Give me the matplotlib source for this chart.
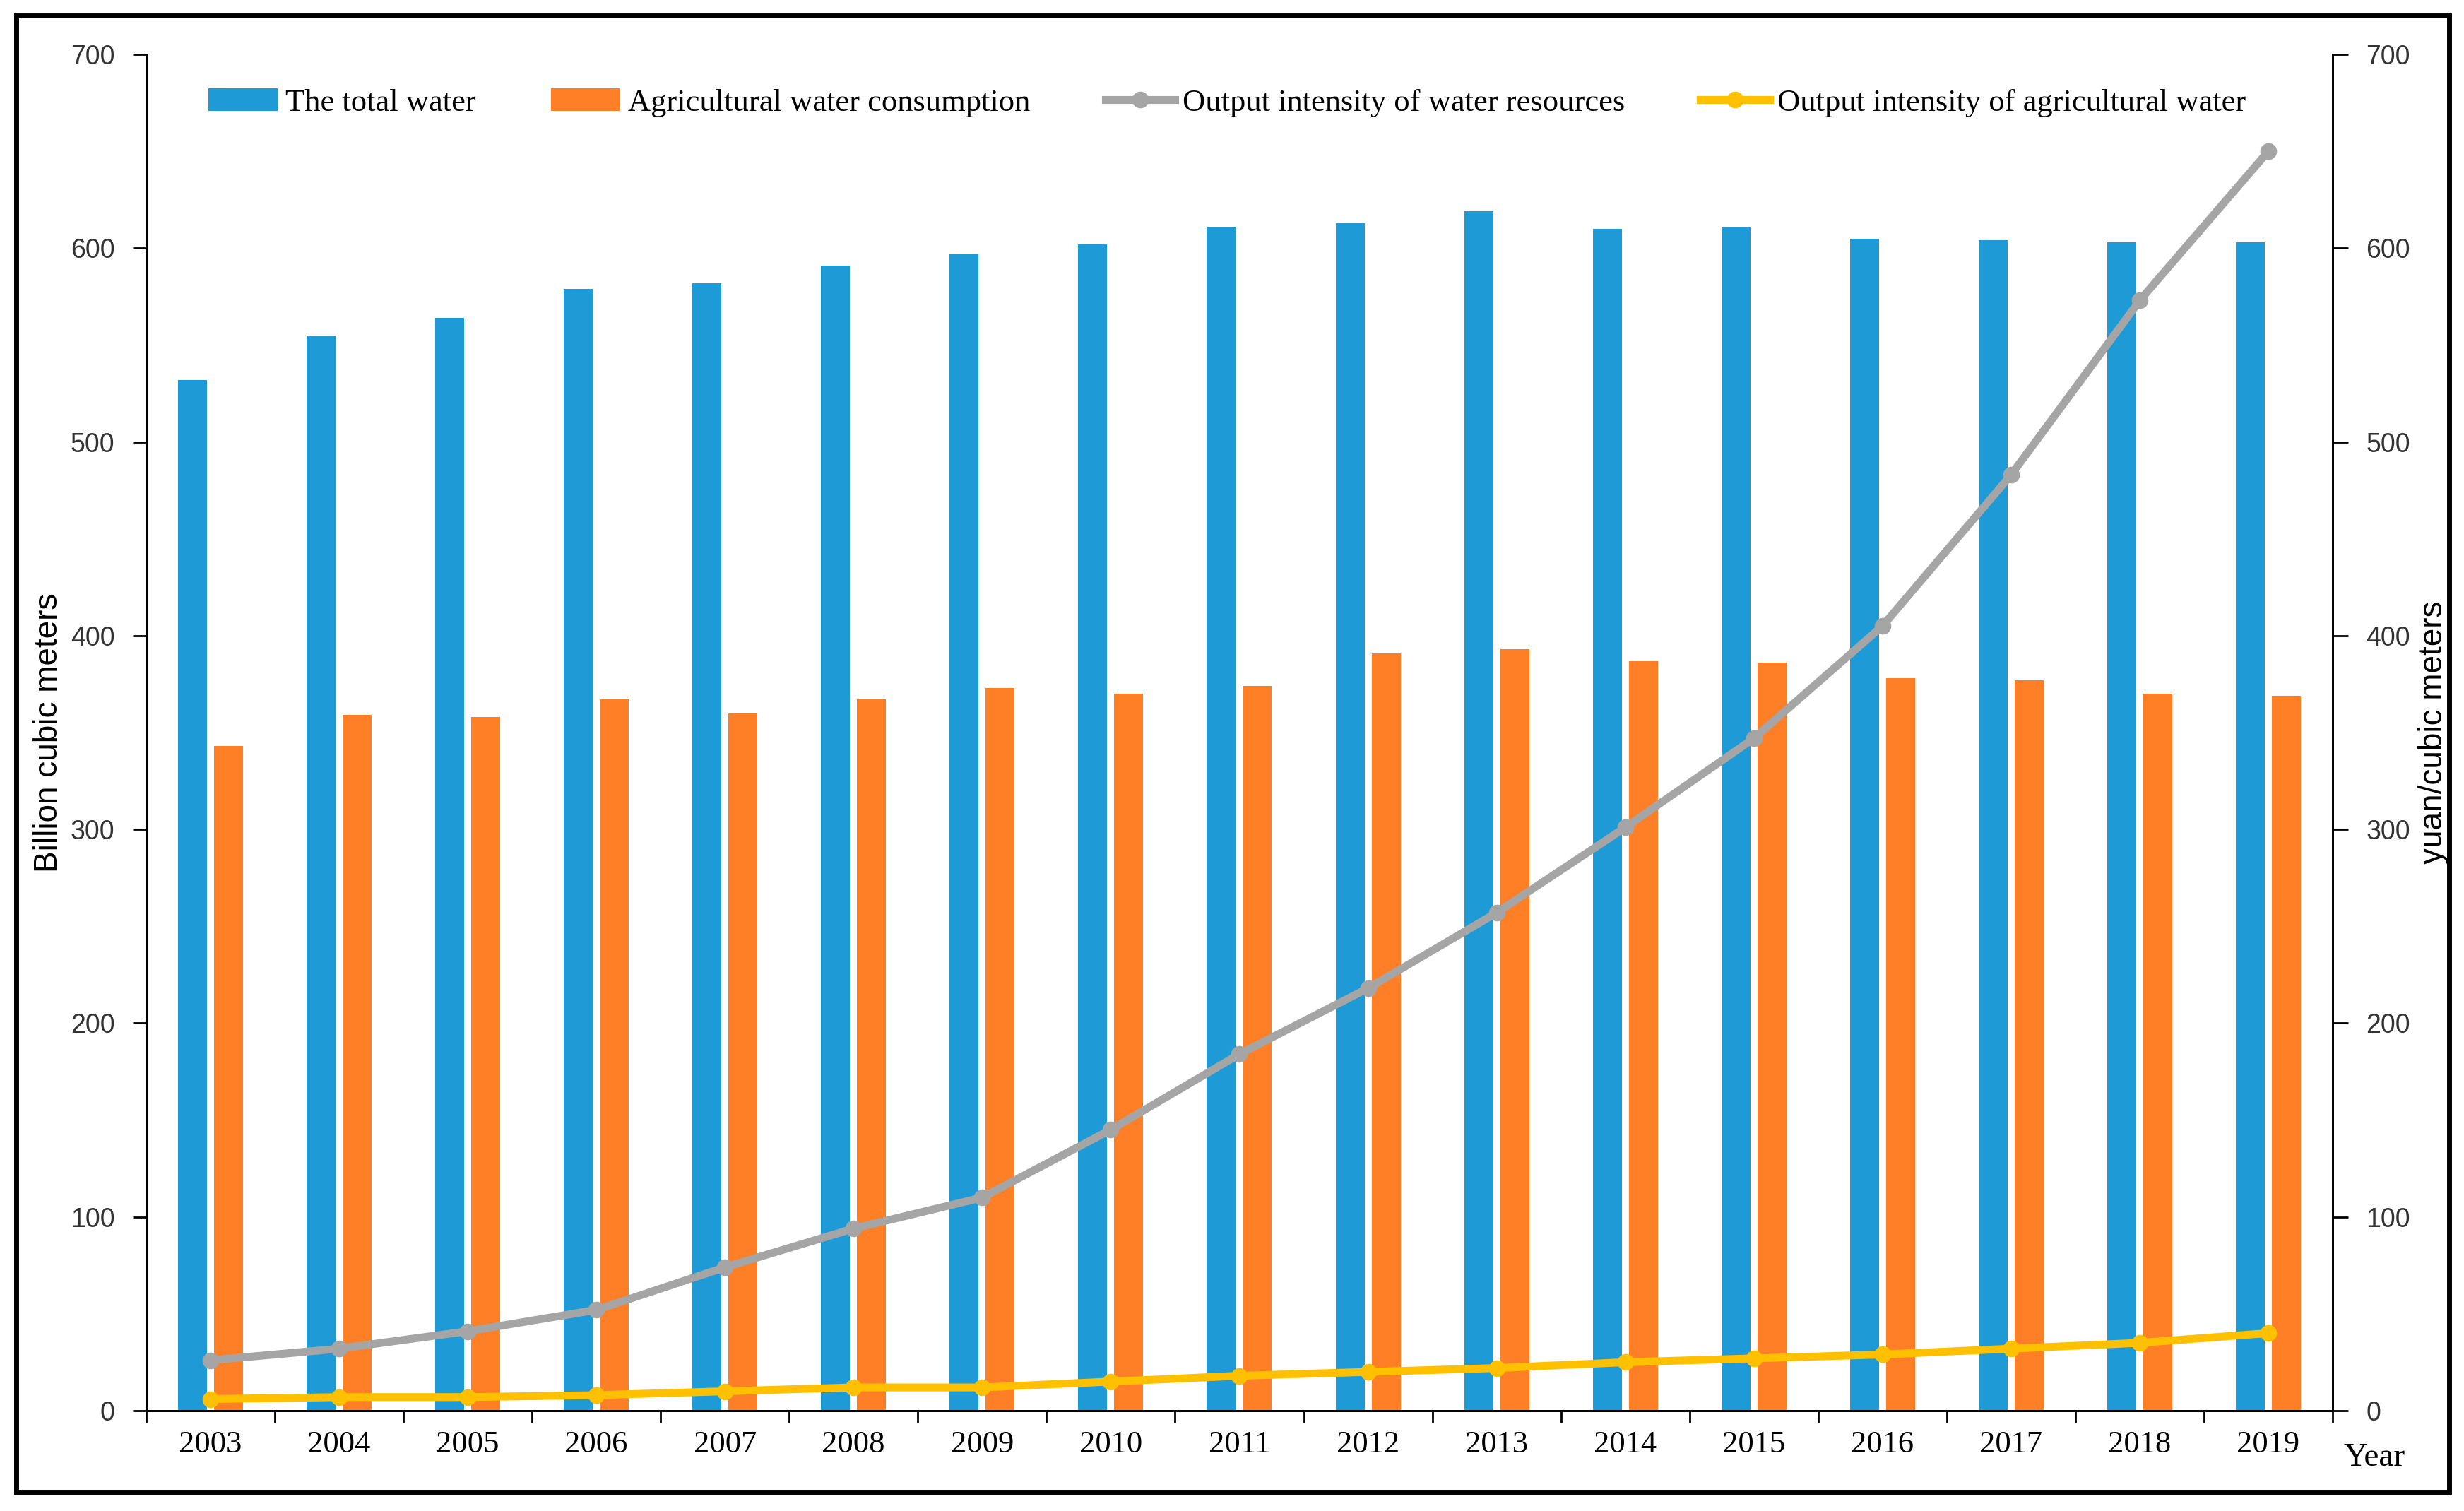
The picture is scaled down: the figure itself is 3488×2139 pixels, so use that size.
from matplotlib import rcParams
from matplotlib import pyplot as plt
from matplotlib.patches import Rectangle
from matplotlib.ticker import MultipleLocator
import numpy as np

years = ['2003', '2004', '2005', '2006', '2007', '2008', '2009', '2010', '2011',
         '2012', '2013', '2014', '2015', '2016', '2017', '2018', '2019']
total_water = [532, 555, 564, 579, 582, 591, 597, 602, 611, 613, 619, 610, 611, 605, 604, 603, 603]
agri_water = [343, 359, 358, 367, 360, 367, 373, 370, 374, 391, 393, 387, 386, 378, 377, 370, 369]
intensity_water = [26, 32, 41, 52, 74, 94, 110, 145, 184, 218, 257, 301, 347, 405, 483, 573, 650]
intensity_agri = [6, 7, 7, 8, 10, 12, 12, 15, 18, 20, 22, 25, 27, 29, 32, 35, 40]

serif = ['Liberation Serif', 'DejaVu Serif']
sans = ['Liberation Sans', 'DejaVu Sans']
rcParams['font.family'] = serif

blue = '#1E9BD7'
orange = '#FF7F27'
gray = '#A5A5A5'
yellow = '#FFC000'

fig = plt.figure(figsize=(34.88, 21.39), dpi=100)
ax = fig.add_axes([0.0593, 0.0664, 0.9467 - 0.0593, 0.964 - 0.0664])

x = np.arange(len(years))
bar_w = 0.225
ax.bar(x - 0.14, total_water, bar_w, color=blue, label='The total water', zorder=2)
ax.bar(x + 0.14, agri_water, bar_w, color=orange, label='Agricultural water consumption', zorder=2)

ax.set_xlim(-0.5, len(years) - 0.5)
ax.set_ylim(0, 700)
ax.yaxis.set_major_locator(MultipleLocator(100))
ax.set_xticks(np.arange(-0.5, len(years), 1.0))
ax.set_xticklabels([])
ax.set_xticks(x, minor=True)
ax.set_xticklabels(years, minor=True, fontsize=32, family=serif)
ax.tick_params(axis='x', which='major', direction='out', length=12, width=2)
ax.tick_params(axis='x', which='minor', length=0, pad=20)
ax.tick_params(axis='y', direction='out', length=14, width=2, pad=18,
               labelsize=27, labelcolor='#333333')
for lab in ax.get_yticklabels():
    lab.set_family(sans)
ax.set_ylabel('Billion cubic meters', fontsize=33, family=sans, labelpad=6)

ax2 = ax.twinx()
ax2.plot(x, intensity_water, '-o', color=gray, lw=8, ms=16,
         label='Output intensity of water resources', zorder=3)
ax2.plot(x, intensity_agri, '-o', color=yellow, lw=8, ms=16,
         label='Output intensity of agricultural water', zorder=3)
ax2.set_ylim(0, 700)
ax2.yaxis.set_major_locator(MultipleLocator(100))
ax2.tick_params(axis='y', direction='out', length=16, width=2, pad=18,
                labelsize=27, labelcolor='#333333')
for lab in ax2.get_yticklabels():
    lab.set_family(sans)
ax2.set_ylabel('yuan/cubic meters', fontsize=33, family=sans, labelpad=8)

for a in (ax, ax2):
    a.spines['top'].set_visible(False)
    for s in ('left', 'right', 'bottom'):
        a.spines[s].set_linewidth(2)

ax.text(1.005, -0.035, 'Year', transform=ax.transAxes, fontsize=34,
        family=serif, ha='left', va='center')

h1, l1 = ax.get_legend_handles_labels()
h2, l2 = ax2.get_legend_handles_labels()
fig.legend(h1 + h2, l1 + l2, ncol=4, loc='center', bbox_to_anchor=(0.498, 0.932),
           frameon=False, prop={'family': serif, 'size': 32},
           handlelength=2.2, handletextpad=0.25, columnspacing=2.4)

fig.patches.append(Rectangle((0.0066, 0.0126), 0.9874, 0.9771, transform=fig.transFigure,
                             fill=False, edgecolor='black', linewidth=5))

plt.savefig('out.png', dpi=100)
